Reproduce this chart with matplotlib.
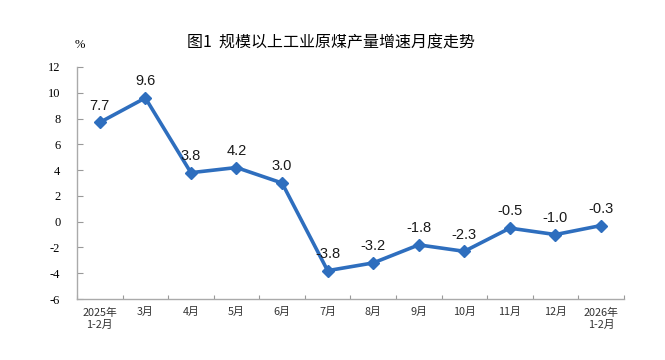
import matplotlib.pyplot as plt

months = ['2025年\n1-2月', '3月', '4月', '5月', '6月', '7月', '8月',
          '9月', '10月', '11月', '12月', '2026年\n1-2月']
growth = [7.7, 9.6, 3.8, 4.2, 3.0, -3.8, -3.2, -1.8, -2.3, -0.5, -1.0, -0.3]
yticks = [-6, -4, -2, 0, 2, 4, 6, 8, 10, 12]

plt.rcParams['font.family'] = ['Noto Sans CJK SC', 'DejaVu Sans']

fig = plt.figure(figsize=(6.65, 3.6), dpi=100)
ax = fig.add_axes([0.1158, 0.1694, 0.8222, 0.6445])

x = list(range(len(growth)))
ax.plot(x, growth, color='#2E6EBE', lw=2.6, marker='D', ms=6.5,
        solid_joinstyle='miter')

for xi, v in zip(x, growth):
    ax.annotate(f'{v:.1f}', (xi, v), xytext=(0, 7), textcoords='offset points',
                ha='center', va='bottom', fontsize=10.5,
                family='Liberation Sans', color='#1a1a1a')

ax.set_xlim(-0.5, len(growth) - 0.5)
ax.set_ylim(-6, 12)
ax.set_yticks(yticks)
ax.set_yticklabels([str(t) for t in yticks], fontsize=9)
for lab in ax.get_yticklabels():
    lab.set_fontfamily('Liberation Serif')
ax.set_xticks([i - 0.5 for i in range(len(growth) + 1)])
ax.set_xticklabels([])
ax.set_xticks(x, minor=True)
ax.set_xticklabels(months, minor=True, fontsize=7.8, linespacing=1.3,
                   va='top', color='#333333')
ax.tick_params(axis='x', which='minor', length=0, pad=6)
ax.tick_params(axis='x', which='major', direction='in', length=3,
               color='#999999')
ax.tick_params(axis='y', direction='in', length=4, color='#999999', pad=12)

for s in ['top', 'right']:
    ax.spines[s].set_visible(False)
for s in ['left', 'bottom']:
    ax.spines[s].set_color('#aaaaaa')
    ax.spines[s].set_linewidth(1)

fig.text(0.497, 0.88, '图1  规模以上工业原煤产量增速月度走势', ha='center',
         va='center', fontsize=11.5)
fig.text(0.12, 0.875, '%', ha='center', va='center', fontsize=9,
         family='Liberation Serif')

fig.savefig('out.png', dpi=100)
